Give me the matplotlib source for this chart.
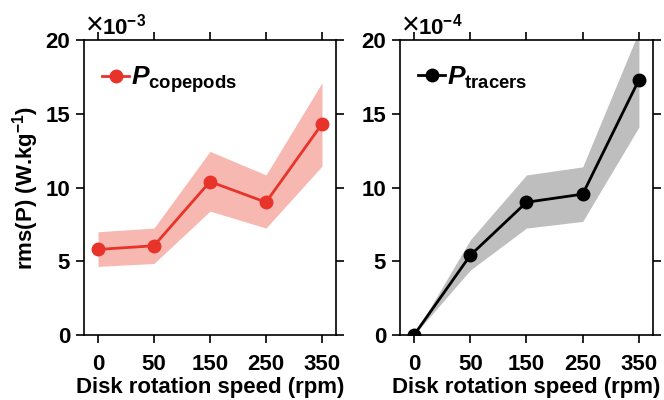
import numpy as np
import matplotlib.pyplot as plt

plt.rcParams['font.family'] = 'Liberation Sans'
plt.rcParams['font.weight'] = 'bold'
plt.rcParams['mathtext.fontset'] = 'custom'
plt.rcParams['mathtext.rm'] = 'Liberation Sans:bold'
plt.rcParams['mathtext.it'] = 'Liberation Sans:italic:bold'
plt.rcParams['mathtext.bf'] = 'Liberation Sans:bold'

# data
speeds = ['0', '50', '150', '250', '350']
cop_mean = [5.8, 6.05, 10.4, 9.0, 14.3]
cop_low = [4.65, 4.85, 8.4, 7.25, 11.45]
cop_high = [7.0, 7.25, 12.45, 10.85, 17.1]
tra_mean = [0.0, 5.4, 9.0, 9.55, 17.3]
tra_low = [0.0, 4.4, 7.25, 7.7, 14.1]
tra_high = [0.0, 6.45, 10.85, 11.4, 20.6]

red = '#E8332A'
red_band = '#F6B8B0'
gray_band = '#BEBEBE'

fig = plt.figure(figsize=(6.64, 4.0), dpi=100)
ax1 = fig.add_axes([0.1265, 0.1625, 0.3795, 0.7375])
ax2 = fig.add_axes([0.6024, 0.1625, 0.381, 0.7375])

x = np.arange(len(speeds))

ax1.fill_between(x, cop_low, cop_high, color=red_band, linewidth=0)
ax1.plot(x, cop_mean, '-o', color=red, lw=2.0, ms=9, label=r'$P_{\rm copepods}$')

ax2.fill_between(x, tra_low, tra_high, color=gray_band, linewidth=0)
ax2.plot(x, tra_mean, '-o', color='black', lw=2.0, ms=9, label=r'$P_{\rm tracers}$')

for ax, exp in [(ax1, '-3'), (ax2, '-4')]:
    ax.set_xlim(-0.25, 4.25)
    ax.set_ylim(0, 20)
    ax.set_xticks(x)
    ax.set_xticklabels(speeds)
    ax.set_yticks([0, 5, 10, 15, 20])
    ax.tick_params(direction='out', length=6, width=1.2, labelsize=16,
                   top=True, right=True, pad=4)
    ax.tick_params(axis='x', pad=8)
    for s in ax.spines.values():
        s.set_linewidth(1.2)
    ax.set_xlabel('Disk rotation speed (rpm)', fontsize=16, fontweight='bold', labelpad=1)
    ax.text(0.008, 0.995, '×', transform=ax.transAxes,
            fontsize=22, ha='left', va='bottom', fontweight='normal')
    ax.text(0.072, 1.0, '10$^{' + exp + '}$', transform=ax.transAxes,
            fontsize=16, ha='left', va='bottom')
    leg = ax.legend(loc='upper left', frameon=False, fontsize=19, handlelength=1.0,
                    handletextpad=0.1, borderaxespad=0.3, bbox_to_anchor=(0.0, 0.98))

ax1.set_ylabel('rms(P) (W.kg$^{-1}$)', fontsize=16, fontweight='bold', labelpad=3)

fig.savefig('out.png', dpi=100)
